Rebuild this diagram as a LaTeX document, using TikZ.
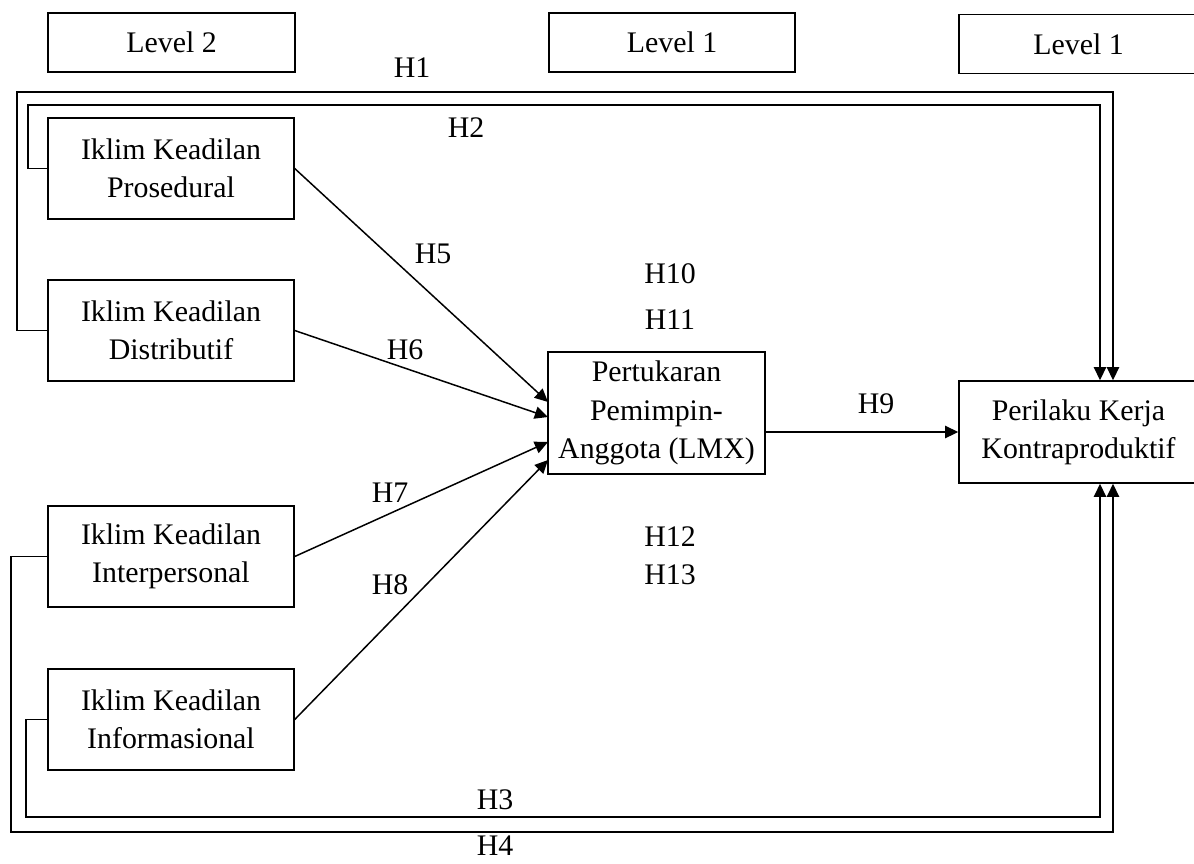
\documentclass[tikz,border=0pt]{standalone}
\usepackage{fontspec}
\setmainfont{Liberation Serif}
\usetikzlibrary{arrows.meta}
\begin{document}
\begin{tikzpicture}[x=0.02cm,y=-0.02cm,
  box/.style={draw,line width=0.85pt,align=center,inner sep=0pt,
    font=\fontsize{17}{21.8}\selectfont},
  lvlbox/.style={box,minimum height=1.18cm},
  varbox/.style={box,minimum width=4.92cm,minimum height=2.02cm},
  lab/.style={inner sep=0pt,font=\fontsize{17}{20}\selectfont},
  conn/.style={line width=0.85pt},
  arr/.style={conn,-{Triangle[length=7.5pt,width=7pt]}}]
\useasboundingbox (0,0) rectangle (1194,863);
% level boxes
\node[lvlbox,minimum width=4.94cm] (lvl2) at (171.5,42.5) {Level 2};
\node[lvlbox,minimum width=4.92cm] (lvl1a) at (672,42.5) {Level 1};
\node[lvlbox,minimum width=4.78cm] (lvl1b) at (1078.5,44) {Level 1};
% variable boxes
\node[varbox] (pros) at (171,168.5) {Iklim Keadilan\\Prosedural};
\node[varbox] (dist) at (171,330.5) {Iklim Keadilan\\Distributif};
\node[varbox] (inter) at (171,556.5) {Iklim Keadilan\\Interpersonal};
\node[varbox] (info) at (171,719.5) {Iklim Keadilan\\Informasional};
\node[box,minimum width=4.34cm,minimum height=2.44cm] (lmx) at (656.5,413) {Pertukaran\\Pemimpin-\\Anggota (LMX)};
\node[box,minimum width=4.78cm,minimum height=2.04cm] (peri) at (1078.5,432) {Perilaku Kerja\\Kontraproduktif};
% corner coordinates
\coordinate (h1l) at (17,92);   \coordinate (h1r) at (1113,92);
\coordinate (h2l) at (28,105);  \coordinate (h2r) at (1100,105);
\coordinate (h3l) at (26,817);  \coordinate (h3r) at (1100,817);
\coordinate (h4l) at (11,832);  \coordinate (h4r) at (1113,832);
\coordinate (t5) at (548,402);
\coordinate (t6) at (548,417);
\coordinate (t7) at (548,442);
\coordinate (t8) at (548,460);
% long connectors
\draw[arr] (dist.west) -| (h1l) -- (h1r) -- (h1r |- peri.north);
\draw[arr] (pros.west) -| (h2l) -- (h2r) -- (h2r |- peri.north);
\draw[arr] (info.west) -| (h3l) -- (h3r) -- (h3r |- peri.south);
\draw[arr] (inter.west) -| (h4l) -- (h4r) -- (h4r |- peri.south);
% diagonal connectors
\draw[arr] (pros.east) -- (t5);
\draw[arr] (dist.east) -- (t6);
\draw[arr] (inter.east) -- (t7);
\draw[arr] (info.east) -- (t8);
\draw[arr] (lmx.east |- peri.west) -- (peri.west);
% labels
\node[lab] (H1) at (412,68) {H1};
\node[lab] (H2) at (466,128) {H2};
\node[lab] (H3) at (495,800) {H3};
\node[lab] (H4) at (495,846) {H4};
\node[lab] (H5) at (433,254) {H5};
\node[lab] (H6) at (405,350) {H6};
\node[lab] (H7) at (390,493) {H7};
\node[lab] (H8) at (390,585) {H8};
\node[lab] (H9) at (876,404) {H9};
\node[lab] (H10) at (670,274) {H10};
\node[lab] (H11) at (670,320) {H11};
\node[lab] (H12) at (670,537) {H12};
\node[lab] (H13) at (670,575) {H13};
\end{tikzpicture}
\end{document}
